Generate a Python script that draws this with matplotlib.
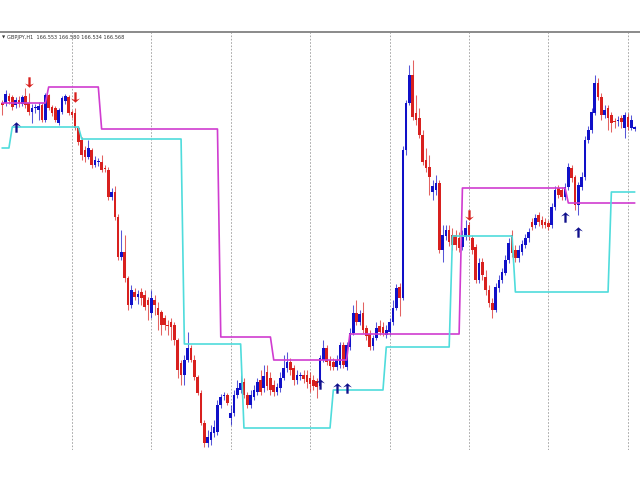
import numpy as np
import matplotlib
matplotlib.use("Agg")
import matplotlib.pyplot as plt
from matplotlib.path import Path

symbol = "GBPJPY,H1"

opens = [166.81,166.81,166.88,166.87,166.79,166.84,166.80,166.88,166.81,166.72,
         166.76,166.74,166.79,166.64,166.89,166.77,166.76,166.61,166.72,166.83,
         166.87,166.72,166.71,166.56,166.44,166.34,166.27,166.34,166.19,166.22,
         166.22,166.16,166.14,165.87,165.92,165.67,165.27,165.32,165.06,164.79,
         164.92,164.87,164.92,164.89,164.84,164.71,164.84,164.76,164.72,164.66,
         164.59,164.62,164.59,164.44,164.21,164.09,164.24,164.36,164.24,164.07,
         163.91,163.61,163.41,163.44,163.51,163.52,163.79,163.88,163.89,163.66,
         163.71,163.89,163.94,164.02,163.89,163.79,163.87,163.92,164.04,163.96,
         164.12,164.06,163.99,163.92,163.96,164.06,164.16,164.22,164.16,164.04,
         164.08,164.09,164.09,164.06,164.04,164.03,163.98,164.24,164.36,164.24,
         164.22,164.17,164.19,164.39,164.17,164.37,164.51,164.71,164.62,164.71,
         164.56,164.50,164.38,164.46,164.58,164.57,164.49,164.52,164.62,164.76,
         164.97,164.86,166.34,166.81,167.09,166.71,166.66,166.49,166.24,166.17,
         165.92,165.94,166.01,165.34,165.48,165.54,165.49,165.49,165.46,165.37,
         165.47,165.59,165.46,165.37,165.04,165.22,165.07,164.94,164.81,164.74,
         164.96,165.04,165.11,165.24,165.49,165.34,165.26,165.32,165.39,165.46,
         165.62,165.59,165.69,165.64,165.62,165.61,165.59,165.77,165.96,165.94,
         165.87,165.97,166.16,166.07,165.79,165.97,166.07,166.44,166.54,166.71,
         167.01,166.87,166.69,166.76,166.69,166.63,166.63,166.66,166.56,166.67,
         166.56,166.553]
highs = [166.84,166.94,166.91,166.89,166.87,166.88,166.89,166.96,166.91,166.80,
         166.80,166.82,166.81,166.91,166.90,166.79,166.78,166.76,166.88,166.90,
         166.89,166.74,166.76,166.58,166.47,166.38,166.44,166.36,166.28,166.26,
         166.29,166.19,166.17,165.96,165.98,165.70,165.54,165.49,165.08,164.99,
         164.96,164.94,164.96,164.94,164.87,164.94,164.89,164.82,164.74,164.69,
         164.64,164.66,164.62,164.46,164.24,164.29,164.52,164.39,164.29,164.09,
         163.94,163.64,163.54,163.59,163.64,163.84,163.90,163.92,163.91,163.79,
         163.94,164.04,164.09,164.06,163.92,163.94,163.99,164.06,164.14,164.19,
         164.19,164.12,164.04,164.01,164.12,164.29,164.32,164.26,164.19,164.14,
         164.12,164.14,164.14,164.12,164.09,164.06,164.29,164.44,164.39,164.28,
         164.26,164.29,164.42,164.42,164.42,164.56,164.79,164.84,164.74,164.82,
         164.59,164.54,164.49,164.62,164.64,164.62,164.59,164.66,164.84,165.00,
         165.01,166.38,166.84,167.19,167.24,166.89,166.76,166.54,166.36,166.29,
         166.04,166.09,166.04,165.59,165.59,165.59,165.56,165.54,165.52,165.54,
         165.64,165.62,165.49,165.40,165.26,165.26,165.14,164.99,164.86,165.01,
         165.09,165.16,165.29,165.46,165.54,165.39,165.39,165.44,165.50,165.56,
         165.66,165.70,165.72,165.68,165.66,165.64,165.81,165.98,165.99,165.97,
         166.01,166.21,166.19,166.09,166.02,166.12,166.48,166.58,166.76,167.09,
         167.06,166.91,166.79,166.79,166.72,166.66,166.68,166.69,166.72,166.71,
         166.69,166.580]
lows = [166.69,166.78,166.80,166.74,166.76,166.77,166.78,166.76,166.69,166.61,
        166.71,166.64,166.62,166.62,166.74,166.68,166.62,166.59,166.70,166.80,
        166.69,166.66,166.54,166.39,166.24,166.22,166.25,166.16,166.17,166.18,
        166.12,166.12,165.84,165.84,165.64,165.24,165.24,165.02,164.74,164.76,
        164.84,164.80,164.79,164.74,164.64,164.66,164.69,164.54,164.49,164.54,
        164.49,164.44,164.39,164.06,163.99,163.99,164.22,164.22,164.04,163.89,
        163.59,163.37,163.37,163.39,163.47,163.49,163.76,163.84,163.79,163.59,
        163.68,163.86,163.91,163.86,163.76,163.76,163.84,163.89,163.89,163.92,
        163.94,163.89,163.88,163.89,163.92,164.04,164.12,164.09,163.99,164.00,
        164.04,164.01,163.96,163.92,163.94,163.86,163.96,164.22,164.19,164.14,
        164.14,164.14,164.16,164.16,164.14,164.34,164.49,164.59,164.59,164.51,
        164.44,164.34,164.34,164.44,164.49,164.48,164.46,164.49,164.59,164.74,
        164.68,164.84,166.29,166.79,166.64,166.59,166.46,166.19,166.12,165.89,
        165.84,165.89,165.31,165.22,165.44,165.38,165.34,165.34,165.32,165.34,
        165.44,165.44,165.30,165.01,165.01,165.04,164.89,164.77,164.66,164.72,
        164.92,165.01,165.09,165.21,165.27,165.22,165.22,165.29,165.36,165.42,
        165.54,165.56,165.58,165.56,165.56,165.54,165.56,165.74,165.86,165.84,
        165.84,165.94,166.02,165.74,165.69,165.94,166.04,166.41,166.51,166.69,
        166.84,166.64,166.66,166.54,166.52,166.56,166.58,166.56,166.46,166.54,
        166.54,166.534]
closes = [166.79,166.90,166.83,166.77,166.84,166.80,166.87,166.79,166.72,166.76,
          166.77,166.78,166.64,166.89,166.76,166.71,166.64,166.74,166.86,166.88,
          166.71,166.69,166.56,166.42,166.29,166.27,166.36,166.19,166.24,166.23,
          166.14,166.15,165.87,165.92,165.67,165.27,165.32,165.06,164.79,164.94,
          164.87,164.90,164.86,164.77,164.79,164.86,164.79,164.69,164.59,164.59,
          164.58,164.57,164.44,164.14,164.09,164.24,164.36,164.24,164.07,163.91,
          163.61,163.41,163.47,163.52,163.57,163.79,163.87,163.89,163.81,163.71,
          163.89,163.96,164.01,163.89,163.79,163.89,163.94,164.02,163.92,164.08,
          163.98,163.94,163.92,163.97,164.06,164.16,164.22,164.14,164.04,164.09,
          164.09,164.05,164.02,164.00,163.98,163.97,164.26,164.36,164.22,164.18,
          164.17,164.24,164.39,164.19,164.39,164.51,164.71,164.62,164.70,164.54,
          164.48,164.37,164.46,164.56,164.52,164.51,164.54,164.62,164.76,164.96,
          164.86,166.34,166.81,167.09,166.67,166.64,166.49,166.22,166.16,166.07,
          165.98,166.01,165.34,165.49,165.54,165.42,165.39,165.39,165.36,165.47,
          165.56,165.47,165.34,165.04,165.21,165.09,164.94,164.81,164.74,164.97,
          165.04,165.12,165.24,165.41,165.31,165.26,165.34,165.40,165.46,165.52,
          165.57,165.66,165.62,165.59,165.59,165.57,165.77,165.94,165.89,165.87,
          165.97,166.17,166.06,165.79,165.99,166.07,166.44,166.54,166.72,167.01,
          166.87,166.69,166.74,166.66,166.61,166.62,166.64,166.62,166.69,166.57,
          166.64,166.568]

# step-line indicator levels (value, number of bars)
upper_levels = [166.81, 166.97, 166.55, 164.47, 164.24, 164.50, 165.96, 165.81]
upper_runs = [14, 16, 36, 16, 23, 34, 32, 21]
lower_levels = [166.36, 166.57, 166.45, 164.40, 163.56, 163.94, 164.37, 165.48, 164.92, 165.92]
lower_runs = [3, 21, 31, 18, 27, 16, 20, 19, 29, 8]

# signal arrows (bar index, price)
sell_bars = [8, 22, 141]
sell_prices = [167.02, 166.87, 165.69]
buy_bars = [4, 96, 101, 104, 170, 174]
buy_prices = [166.57, 164.00, 163.96, 163.96, 165.67, 165.52]

day_start_bars = [21, 45, 69, 93, 117, 141, 165, 189]

O = np.array(opens); H = np.array(highs); L = np.array(lows); C = np.array(closes)
n = len(O)
x = np.arange(n)
upper = np.repeat(upper_levels, upper_runs)
lower = np.repeat(lower_levels, lower_runs)

BLUE = "#1010c8"
RED = "#d8201e"

up_arrow = Path([(0, 1), (0.85, 0.2), (0.22, 0.45), (0.22, -1), (-0.22, -1),
                 (-0.22, 0.45), (-0.85, 0.2), (0, 1)],
                [Path.MOVETO] + [Path.LINETO] * 6 + [Path.CLOSEPOLY])
down_arrow = Path([(vx, -vy) for vx, vy in up_arrow.vertices], up_arrow.codes)

fig = plt.figure(figsize=(6.4, 4.8), dpi=100)
fig.patch.set_facecolor("white")
ax = fig.add_axes([0, 30/480, 1, 418/480])
ax.set_facecolor("white")

for d in day_start_bars:
    ax.axvline(d, color="#9a9a9a", lw=0.6, ls=(0, (2, 2)), zorder=0)

up = C >= O
cols = np.where(up, BLUE, RED)
ax.vlines(x, L, H, colors=cols, lw=0.75, alpha=0.7, zorder=2)
body = np.abs(C - O)
body = np.maximum(body, 0.015)
ax.bar(x, body, bottom=np.minimum(O, C), width=0.8, color=cols, linewidth=0, zorder=3)

ax.plot(x, upper, color="#d03cd0", lw=1.2, zorder=4)
ax.plot(x, lower, color="#4fdcdc", lw=1.2, zorder=4)

ax.plot(sell_bars, sell_prices, ls="none", marker=down_arrow, markersize=7.5,
        color=RED, markeredgewidth=0, zorder=5)
ax.plot(buy_bars, buy_prices, ls="none", marker=up_arrow, markersize=7.5,
        color="#10108c", markeredgewidth=0, zorder=5)

ax.set_xlim(-0.7, 192.65)
ax.set_ylim(163.34, 167.52)
ax.set_xticks([]); ax.set_yticks([])
for s in ["left", "right", "bottom"]:
    ax.spines[s].set_visible(False)
ax.spines["top"].set_color("#8a8a8a")
ax.spines["top"].set_linewidth(1.4)

label = f"{symbol}  {O[-1]:.3f} {H[-1]:.3f} {L[-1]:.3f} {C[-1]:.3f}"
fig.text(2/640, 1 - 37.5/480, "\u25bc", fontsize=3, color="#333333", va="center", ha="left")
fig.text(7/640, 1 - 37.5/480, label, fontsize=3.6, color="#333333", va="center", ha="left",
         family="Liberation Sans Narrow")

fig.savefig("out.png", dpi=100, facecolor="white")
